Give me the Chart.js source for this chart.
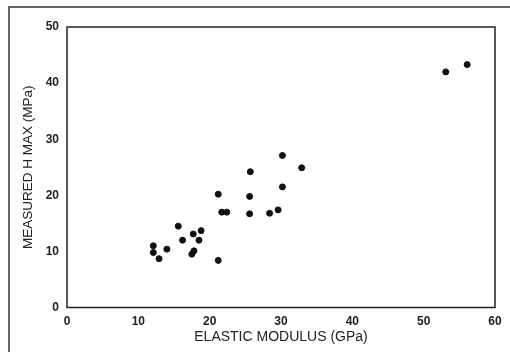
<!DOCTYPE html>
<html><head><meta charset="utf-8">
<script src="https://cdn.jsdelivr.net/npm/chart.js@4"></script>
<style>html,body{margin:0;padding:0;background:#fff;}#wrap{width:510px;height:352px;position:relative;}</style>
</head><body><div id="wrap"><canvas id="c" width="510" height="352"></canvas></div>
<script>
const elasticModulus = [12.1, 12.1, 12.9, 14.0, 15.6, 16.2, 17.7, 18.8, 18.5, 17.5, 17.8, 21.2, 30.2, 32.9, 25.7, 30.2, 21.2, 25.6, 21.7, 22.4, 25.6, 28.4, 29.6, 53.1, 56.1];
const measuredHmax  = [11.0, 9.8, 8.7, 10.4, 14.5, 12.0, 13.1, 13.7, 12.0, 9.5, 10.1, 8.4, 27.1, 24.9, 24.2, 21.5, 20.2, 19.8, 17.0, 17.0, 16.7, 16.8, 17.4, 42.0, 43.3];
const xTicks = [0, 10, 20, 30, 40, 50, 60];
const yTicks = [0, 10, 20, 30, 40, 50];
const xTitle = 'ELASTIC MODULUS (GPa)';
const yTitle = 'MEASURED H MAX (MPa)';

const points = elasticModulus.map((x, i) => ({x: x, y: measuredHmax[i]}));
const tickFont = {family: 'Liberation Sans', size: 12, weight: 'bold'};

const framePlugin = {
  id: 'frame',
  beforeDraw(chart) {
    const ctx = chart.ctx;
    ctx.save();
    ctx.strokeStyle = '#333';
    ctx.lineWidth = 1.5;
    ctx.beginPath();
    ctx.moveTo(9, 352);
    ctx.lineTo(9, 7);
    ctx.lineTo(510, 7);
    ctx.stroke();
    ctx.restore();
  },
  afterDatasetsDraw(chart) {
    const a = chart.chartArea;
    const ctx = chart.ctx;
    ctx.save();
    ctx.strokeStyle = '#222';
    ctx.lineWidth = 1.5;
    ctx.strokeRect(a.left, a.top, a.right - a.left, a.bottom - a.top);
    ctx.restore();
  }
};

new Chart(document.getElementById('c'), {
  type: 'scatter',
  data: {datasets: [{data: points, backgroundColor: '#111', borderColor: '#111', pointRadius: 3, pointHoverRadius: 3}]},
  options: {
    responsive: false,
    animation: false,
    events: [],
    layout: {padding: {left: 20, right: 15, top: 27, bottom: 6}},
    plugins: {legend: {display: false}, tooltip: {enabled: false}},
    scales: {
      x: {
        type: 'linear', min: 0, max: 60,
        afterBuildTicks(s) { s.ticks = xTicks.map(v => ({value: v})); },
        afterFit(s) { s.height = 38.5; },
        grid: {display: false, drawTicks: false},
        border: {display: false},
        ticks: {color: '#222', font: tickFont, padding: 7, maxRotation: 0},
        title: {display: true, text: xTitle, color: '#222', font: {family: 'Liberation Sans', size: 14}, padding: {top: 0, bottom: 0}}
      },
      y: {
        type: 'linear', min: 0, max: 50,
        afterBuildTicks(s) { s.ticks = yTicks.map(v => ({value: v})); },
        afterFit(s) { s.width = 47; },
        grid: {display: false, drawTicks: false},
        border: {display: false},
        ticks: {color: '#222', font: tickFont, padding: 8},
        title: {display: true, text: yTitle, color: '#222', font: {family: 'Liberation Sans', size: 13.5}, padding: {top: 0, bottom: 0}}
      }
    }
  },
  plugins: [framePlugin]
});
</script></body></html>
